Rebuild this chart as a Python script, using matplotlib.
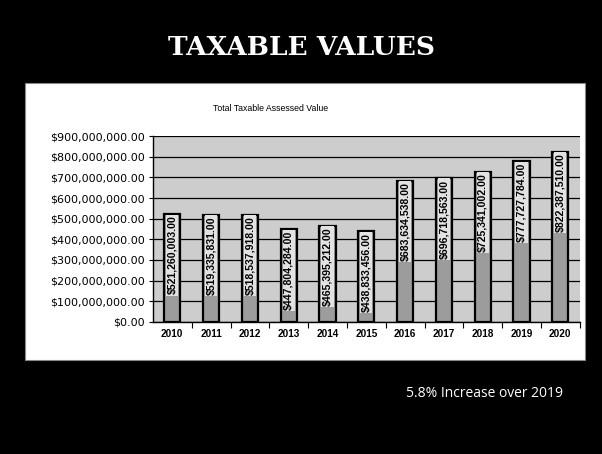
import matplotlib
matplotlib.use('Agg')
import matplotlib.pyplot as plt
from matplotlib.patches import Rectangle
from matplotlib.ticker import FuncFormatter, MultipleLocator

years = ['2010', '2011', '2012', '2013', '2014', '2015',
         '2016', '2017', '2018', '2019', '2020']
values = [521260003, 519335831, 518537918, 447804284, 465395212, 438833456,
          683634538, 696718563, 725341002, 777727784, 822387510]
labels = ['$521,260,003.00', '$519,335,831.00', '$518,537,918.00',
          '$447,804,284.00', '$465,395,212.00', '$438,833,456.00',
          '$683,634,538.00', '$696,718,563.00', '$725,341,002.00',
          '$777,727,784.00', '$822,387,510.00']

fig = plt.figure(figsize=(6.02, 4.54), dpi=100, facecolor='black')

# white panel behind the chart
fig.patches.append(Rectangle((0.0415, 0.207), 0.930, 0.610, transform=fig.transFigure,
                             facecolor='white', edgecolor='#888888', lw=0.8, zorder=-10))

fig.text(0.5, 0.895, 'TAXABLE VALUES', color='white', fontsize=19, fontweight='bold',
         family='DejaVu Serif', ha='center', va='center')
fig.text(0.45, 0.760, 'Total Taxable Assessed Value', color='black', fontsize=6.3,
         family='Liberation Sans', ha='center', va='center')
fig.text(0.804, 0.134, '5.8% Increase over 2019', color='white', fontsize=10,
         family='Open Sans', ha='center', va='center')

ax = fig.add_axes([0.254, 0.291, 0.709, 0.409])
ax.set_facecolor('#cdcdcd')
x = list(range(len(years)))
bars = ax.bar(x, values, width=0.42, color='#9c9c9c', edgecolor='black', linewidth=1.6, zorder=3)

for xi, v, lab in zip(x, values, labels):
    ax.text(xi, v - 6e6, lab, rotation=90, ha='center', va='top', fontsize=7.6,
            fontweight='bold', family='Liberation Sans', color='black', zorder=4,
            bbox=dict(boxstyle='square,pad=0.1', facecolor='#e2e2e2', edgecolor='none'))

ax.set_ylim(0, 900000000)
ax.set_xlim(-0.5, len(years) - 0.5)
ax.yaxis.set_major_locator(MultipleLocator(100000000))
ax.yaxis.set_major_formatter(FuncFormatter(lambda v, p: '${:,.2f}'.format(v)))
ax.grid(axis='y', color='black', linewidth=0.9, zorder=1)
ax.set_axisbelow(True)

ax.set_xticks(x)
ax.set_xticklabels(years)
ax.set_xticks([i + 0.5 for i in x], minor=True)
ax.tick_params(axis='x', which='major', length=0, pad=5)
ax.tick_params(axis='x', which='minor', length=4, width=0.8, direction='out')
ax.tick_params(axis='y', length=3, width=0.8, direction='out', pad=3)
for lab in ax.get_xticklabels():
    lab.set_family('Liberation Sans')
    lab.set_fontweight('bold')
    lab.set_fontsize(7.2)
for lab in ax.get_yticklabels():
    lab.set_family('DejaVu Sans')
    lab.set_fontsize(8)

for s in ['top', 'right']:
    ax.spines[s].set_visible(False)
ax.spines['left'].set_linewidth(1.0)
ax.spines['bottom'].set_linewidth(1.0)

fig.savefig('out.png', dpi=100, facecolor='black')
